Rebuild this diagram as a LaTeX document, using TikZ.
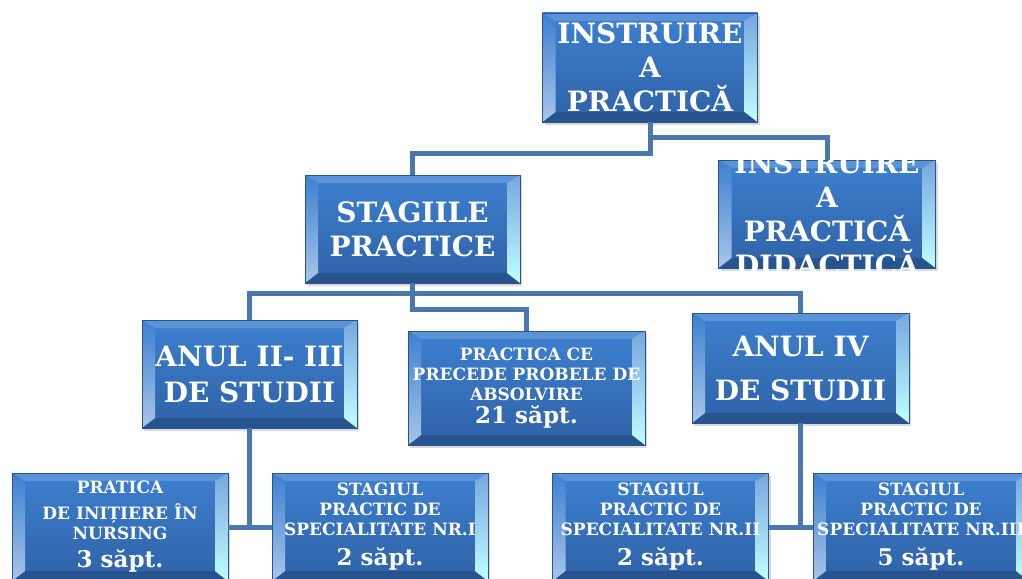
\documentclass[tikz,border=0pt]{standalone}
\usepackage{fontspec}
\setmainfont{DejaVu Serif}
\usetikzlibrary{calc,shadows}
\definecolor{fatasus}{HTML}{3D80D0}
\definecolor{fatajos}{HTML}{2F62A6}
\definecolor{margine}{HTML}{27548E}
\definecolor{linie}{HTML}{4A77AE}

\begin{document}
\begin{tikzpicture}[x=1pt,y=-1pt,
  caseta/.style={rectangle,draw=margine,line width=.6pt,top color=fatasus,bottom color=fatajos,
    minimum width=215pt,minimum height=108pt,inner sep=0pt,align=center,text=white,
    font=\fontsize{28}{34}\selectfont\bfseries,
    drop shadow={opacity=.3,shadow xshift=2pt,shadow yshift=-3pt},
    path picture={
      \coordinate (pA) at (path picture bounding box.north west); \coordinate (pB) at (path picture bounding box.north east);
      \coordinate (pC) at (path picture bounding box.south east); \coordinate (pD) at (path picture bounding box.south west);
      \fill[fatasus!85!white] (pA)--(pB)--($(pB)+(-13pt,-8pt)$)--($(pA)+(13pt,-8pt)$)--cycle;
      \fill[margine] (pD)--(pC)--($(pC)+(-13pt,10pt)$)--($(pD)+(13pt,10pt)$)--cycle;
      \shade[top color=fatasus,bottom color=fatasus!45!white] (pA)--($(pA)+(13pt,-8pt)$)--($(pD)+(13pt,10pt)$)--(pD)--cycle;
      \shade[top color=fatasus!70!white,bottom color=cyan!25!white] (pB)--($(pB)+(-13pt,-8pt)$)--($(pC)+(-13pt,10pt)$)--(pC)--cycle;
    }},
  mic/.style={font=\fontsize{17}{20}\selectfont\bfseries},
  legatura/.style={draw=linie,line width=5pt}]
\useasboundingbox (0,0) rectangle (1022,578);
\node[caseta,minimum height=109pt] (instr) at (650,67.5) {INSTRUIRE\\A\\PRACTICĂ};
\node[caseta,minimum width=217pt,inner ysep=-14pt] (didac) at (827,214) {INSTRUIRE\\A\\PRACTICĂ\\DIDACTICĂ};
\node[caseta] (stag) at (412.5,229) {STAGIILE\\PRACTICE};
\node[caseta] (anul23) at (249.5,374) {ANUL II- III\\[2pt]DE STUDII};
\node[caseta,mic,minimum width=237pt,minimum height=114pt] (absolv) at (526.5,388)
  {PRACTICA CE\\PRECEDE PROBELE DE\\ABSOLVIRE\\[3pt]{\fontsize{23}{23}\selectfont 21 săpt.}};
\node[caseta,minimum width=217pt,minimum height=110pt] (anul4) at (800.5,368) {ANUL IV\\[10pt]DE STUDII};
\node[caseta,mic,minimum width=216pt] (nurs) at (120,527) {PRATICA\\[6pt]DE INIȚIERE ÎN\\NURSING\\[8pt]{\fontsize{23}{23}\selectfont 3 săpt.}};
\node[caseta,mic,minimum width=216pt] (spec1) at (380,527) {STAGIUL\\PRACTIC DE\\SPECIALITATE NR.I\\[10pt]{\fontsize{23}{23}\selectfont 2 săpt.}};
\node[caseta,mic,minimum width=216pt] (spec2) at (660.5,527) {STAGIUL\\PRACTIC DE\\SPECIALITATE NR.II\\[10pt]{\fontsize{23}{23}\selectfont 2 săpt.}};
\node[caseta,mic,minimum width=216pt] (spec3) at (921,527) {STAGIUL\\PRACTIC DE\\SPECIALITATE NR.III\\[10pt]{\fontsize{23}{23}\selectfont 5 săpt.}};
\draw[legatura] (instr.south) -- ++(0,15) -| (didac.north);
\draw[legatura] (instr.south) -- ++(0,31) -| (stag.north);
\draw[legatura] (stag.south) -- ++(0,10) -| (anul23.north); \draw[legatura] (stag.south) -- ++(0,10) -| (anul4.north);
\draw[legatura] (stag.south) -- ++(0,26) -| (absolv.north);
\draw[legatura] (anul23.south) |- (nurs.east); \draw[legatura] (anul23.south) |- (spec1.west);
\draw[legatura] (anul4.south) |- (spec2.east); \draw[legatura] (anul4.south) |- (spec3.west);
\end{tikzpicture}
\end{document}
